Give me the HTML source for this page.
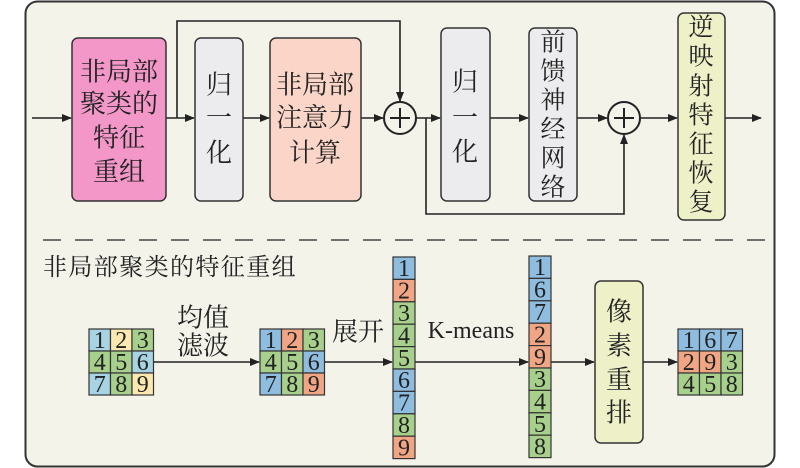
<!DOCTYPE html>
<html><head><meta charset="utf-8"><style>html,body{margin:0;padding:0;background:#fff}svg{display:block}</style></head>
<body>
<svg width="800" height="468" viewBox="0 0 800 468" xmlns="http://www.w3.org/2000/svg" font-family="'Liberation Serif','Noto Serif CJK SC',serif">
<defs><marker id="a" markerWidth="10" markerHeight="8" refX="9" refY="4" orient="auto" markerUnits="userSpaceOnUse"><path d="M0,0 L10,4 L0,8 Z" fill="#222"/></marker></defs>
<rect x="25.5" y="1.5" width="749" height="465" rx="12" fill="#f3f3ea" stroke="#333" stroke-width="2"/>
<g stroke="#222" stroke-width="1.6" fill="none">
<line x1="32" y1="118" x2="71" y2="118" marker-end="url(#a)"/>
<line x1="166" y1="118" x2="194" y2="118" marker-end="url(#a)"/>
<line x1="243" y1="118" x2="269" y2="118" marker-end="url(#a)"/>
<line x1="361" y1="118" x2="383" y2="118" marker-end="url(#a)"/>
<polyline points="177,118 177,21 400,21 400,101" marker-end="url(#a)"/>
<line x1="416" y1="118" x2="440" y2="118" marker-end="url(#a)"/>
<line x1="490" y1="118" x2="528" y2="118" marker-end="url(#a)"/>
<line x1="577" y1="118" x2="607" y2="118" marker-end="url(#a)"/>
<polyline points="426,118 426,214 624,214 624,135" marker-end="url(#a)"/>
<line x1="640" y1="118" x2="677" y2="118" marker-end="url(#a)"/>
<line x1="725" y1="118" x2="761" y2="118" marker-end="url(#a)"/>
<circle cx="400" cy="118" r="16" stroke-width="2"/><line x1="390" y1="118" x2="410" y2="118" stroke-width="2"/><line x1="400" y1="108" x2="400" y2="128" stroke-width="2"/>
<circle cx="624" cy="118" r="16" stroke-width="2"/><line x1="614" y1="118" x2="634" y2="118" stroke-width="2"/><line x1="624" y1="108" x2="624" y2="128" stroke-width="2"/>
<line x1="43" y1="240" x2="765" y2="240" stroke="#444" stroke-width="1.5" stroke-dasharray="18,14"/>
<line x1="153" y1="362" x2="259" y2="362" marker-end="url(#a)"/>
<line x1="324" y1="362" x2="392" y2="362" marker-end="url(#a)"/>
<line x1="415" y1="362" x2="528" y2="362" marker-end="url(#a)"/>
<line x1="551" y1="362" x2="594" y2="362" marker-end="url(#a)"/>
<line x1="643" y1="362" x2="677" y2="362" marker-end="url(#a)"/>
</g>
<g stroke="#333" stroke-width="1.5">
<rect x="72" y="38" width="94" height="163" rx="6" fill="#f397c9"/>
<rect x="195" y="38" width="48" height="163" rx="6" fill="#ececee"/>
<rect x="270" y="38" width="91" height="163" rx="6" fill="#fbd6c8"/>
<rect x="441" y="28" width="49" height="173" rx="6" fill="#ececee"/>
<rect x="529" y="28" width="48" height="173" rx="6" fill="#ececee"/>
<rect x="678" y="13" width="47" height="207" rx="6" fill="#eef0c8"/>
<rect x="595" y="281" width="48" height="162" rx="6" fill="#eef0c8"/>
</g>
<g font-size="26" fill="#222" text-anchor="middle" dominant-baseline="central">
<text x="119" y="72">非局部</text><text x="119" y="104">聚类的</text><text x="119" y="138">特征</text><text x="119" y="172">重组</text>
<text x="219" y="85">归</text><text x="219" y="118">一</text><text x="219" y="153">化</text>
<text x="315" y="85">非局部</text><text x="315" y="118">注意力</text><text x="315" y="153">计算</text>
<text x="465" y="82">归</text><text x="465" y="118">一</text><text x="465" y="152">化</text>
<g font-size="25"><text x="553" y="43">前</text><text x="553" y="72">馈</text><text x="553" y="101">神</text><text x="553" y="130">经</text><text x="553" y="159">网</text><text x="553" y="188">络</text>
<text x="701" y="28">逆</text><text x="701" y="57">映</text><text x="701" y="87">射</text><text x="701" y="116">特</text><text x="701" y="145">征</text><text x="701" y="174">恢</text><text x="701" y="203">复</text></g>
<text x="619" y="312">像</text><text x="619" y="346">素</text><text x="619" y="380">重</text><text x="619" y="413">排</text>
<text x="203" y="318">均值</text><text x="203" y="346">滤波</text>
<text x="358" y="332">展开</text>
<text x="471" y="331" font-size="24">K-means</text>
</g>
<text x="43" y="268" font-size="24" fill="#222" dominant-baseline="central" letter-spacing="1.4">非局部聚类的特征重组</text>

<g stroke="#333" stroke-width="1.2">
<!-- grid1 -->
<rect x="89" y="329" width="21.5" height="22" fill="#a7d3e3"/><rect x="110.5" y="329" width="21.5" height="22" fill="#fde9b0"/><rect x="132" y="329" width="21.5" height="22" fill="#a8d08d"/>
<rect x="89" y="351" width="21.5" height="22" fill="#a8d08d"/><rect x="110.5" y="351" width="21.5" height="22" fill="#a8d08d"/><rect x="132" y="351" width="21.5" height="22" fill="#a7d3e3"/>
<rect x="89" y="373" width="21.5" height="22" fill="#a7d3e3"/><rect x="110.5" y="373" width="21.5" height="22" fill="#a8d08d"/><rect x="132" y="373" width="21.5" height="22" fill="#fde9b0"/>
<!-- grid2 -->
<rect x="260" y="329" width="21.5" height="22" fill="#8fbde0"/><rect x="281.5" y="329" width="21.5" height="22" fill="#f0a584"/><rect x="303" y="329" width="21.5" height="22" fill="#a8d08d"/>
<rect x="260" y="351" width="21.5" height="22" fill="#a8d08d"/><rect x="281.5" y="351" width="21.5" height="22" fill="#a8d08d"/><rect x="303" y="351" width="21.5" height="22" fill="#8fbde0"/>
<rect x="260" y="373" width="21.5" height="22" fill="#8fbde0"/><rect x="281.5" y="373" width="21.5" height="22" fill="#a8d08d"/><rect x="303" y="373" width="21.5" height="22" fill="#f0a584"/>
<!-- grid3 -->
<rect x="678" y="329" width="21.5" height="22" fill="#8fbde0"/><rect x="699.5" y="329" width="21.5" height="22" fill="#8fbde0"/><rect x="721" y="329" width="21.5" height="22" fill="#8fbde0"/>
<rect x="678" y="351" width="21.5" height="22" fill="#f0a584"/><rect x="699.5" y="351" width="21.5" height="22" fill="#f0a584"/><rect x="721" y="351" width="21.5" height="22" fill="#a8d08d"/>
<rect x="678" y="373" width="21.5" height="22" fill="#a8d08d"/><rect x="699.5" y="373" width="21.5" height="22" fill="#a8d08d"/><rect x="721" y="373" width="21.5" height="22" fill="#a8d08d"/>
<!-- col1 -->
<rect x="393" y="257" width="22" height="22.4" fill="#8fbde0"/>
<rect x="393" y="279.4" width="22" height="22.4" fill="#f0a584"/>
<rect x="393" y="301.8" width="22" height="22.4" fill="#a8d08d"/>
<rect x="393" y="324.2" width="22" height="22.4" fill="#a8d08d"/>
<rect x="393" y="346.6" width="22" height="22.4" fill="#a8d08d"/>
<rect x="393" y="369" width="22" height="22.4" fill="#8fbde0"/>
<rect x="393" y="391.4" width="22" height="22.4" fill="#8fbde0"/>
<rect x="393" y="413.8" width="22" height="22.4" fill="#a8d08d"/>
<rect x="393" y="436.2" width="22" height="22.4" fill="#f0a584"/>
<!-- col2 -->
<rect x="529" y="256" width="22" height="22.4" fill="#8fbde0"/>
<rect x="529" y="278.4" width="22" height="22.4" fill="#8fbde0"/>
<rect x="529" y="300.8" width="22" height="22.4" fill="#8fbde0"/>
<rect x="529" y="323.2" width="22" height="22.4" fill="#f0a584"/>
<rect x="529" y="345.6" width="22" height="22.4" fill="#f0a584"/>
<rect x="529" y="368" width="22" height="22.4" fill="#a8d08d"/>
<rect x="529" y="390.4" width="22" height="22.4" fill="#a8d08d"/>
<rect x="529" y="412.8" width="22" height="22.4" fill="#a8d08d"/>
<rect x="529" y="435.2" width="22" height="22.4" fill="#a8d08d"/>
</g>
<g font-size="24" fill="#222" text-anchor="middle" dominant-baseline="central">
<text x="99.75" y="341">1</text><text x="121.25" y="341">2</text><text x="142.75" y="341">3</text>
<text x="99.75" y="363">4</text><text x="121.25" y="363">5</text><text x="142.75" y="363">6</text>
<text x="99.75" y="385">7</text><text x="121.25" y="385">8</text><text x="142.75" y="385">9</text>
<text x="270.75" y="341">1</text><text x="292.25" y="341">2</text><text x="313.75" y="341">3</text>
<text x="270.75" y="363">4</text><text x="292.25" y="363">5</text><text x="313.75" y="363">6</text>
<text x="270.75" y="385">7</text><text x="292.25" y="385">8</text><text x="313.75" y="385">9</text>
<text x="688.75" y="341">1</text><text x="710.25" y="341">6</text><text x="731.75" y="341">7</text>
<text x="688.75" y="363">2</text><text x="710.25" y="363">9</text><text x="731.75" y="363">3</text>
<text x="688.75" y="385">4</text><text x="710.25" y="385">5</text><text x="731.75" y="385">8</text>
<text x="404" y="269.2">1</text><text x="404" y="291.6">2</text><text x="404" y="314">3</text><text x="404" y="336.4">4</text><text x="404" y="358.8">5</text><text x="404" y="381.2">6</text><text x="404" y="403.6">7</text><text x="404" y="426">8</text><text x="404" y="448.4">9</text>
<text x="540" y="268.2">1</text><text x="540" y="290.6">6</text><text x="540" y="313">7</text><text x="540" y="335.4">2</text><text x="540" y="357.8">9</text><text x="540" y="380.2">3</text><text x="540" y="402.6">4</text><text x="540" y="425">5</text><text x="540" y="447.4">8</text>
</g>
</svg>
</body></html>
